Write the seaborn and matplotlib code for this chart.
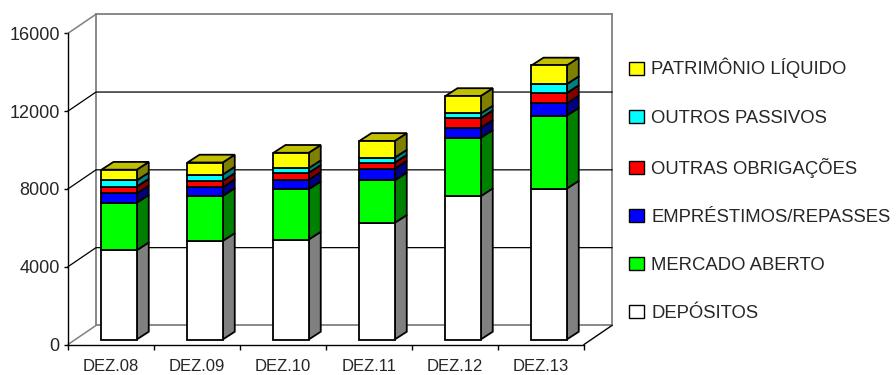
import matplotlib
matplotlib.use("Agg")
import matplotlib.pyplot as plt
from matplotlib.patches import Polygon, Patch
import numpy as np
import pandas as pd
import seaborn as sns

# Balance sheet composition (liabilities + equity), December of each year
categories = ["DEZ.08", "DEZ.09", "DEZ.10", "DEZ.11", "DEZ.12", "DEZ.13"]
depositos = [4590, 5070, 5140, 6000, 7370, 7760]
mercado_aberto = [2440, 2310, 2590, 2180, 3000, 3750]
emprestimos_repasses = [480, 450, 480, 600, 510, 630]
outras_obrigacoes = [350, 320, 360, 310, 500, 530]
outros_passivos = [320, 330, 240, 260, 240, 460]
patrimonio_liquido = [550, 620, 790, 860, 900, 960]

series_names = ["DEPÓSITOS", "MERCADO ABERTO", "EMPRÉSTIMOS/REPASSES",
                "OUTRAS OBRIGAÇÕES", "OUTROS PASSIVOS", "PATRIMÔNIO LÍQUIDO"]
y_ticks = [0, 4000, 8000, 12000, 16000]

df = pd.DataFrame(
    dict(zip(series_names, [depositos, mercado_aberto, emprestimos_repasses,
                            outras_obrigacoes, outros_passivos, patrimonio_liquido])),
    index=categories,
)

front_colors = ["#FFFFFF", "#00FF00", "#0000FF", "#FF0000", "#00FFFF", "#FFFF00"]
side_colors = ["#808080", "#008000", "#000080", "#800000", "#008080", "#808000"]
top_color = "#C0C000"

sns.set_theme(style="white")
plt.rcParams["font.family"] = ["Liberation Sans", "DejaVu Sans"]

W, H = 896, 375
fig = plt.figure(figsize=(W / 100, H / 100), dpi=100)
fig.patch.set_facecolor("white")

# front plane of the pseudo-3D box
ax = fig.add_axes([68 / W, 30.5 / H, 516 / W, 311.2 / H])
ax.set_xlim(0, len(categories))
ax.set_ylim(0, 16000)
ax.set_facecolor("none")

# oblique depth of the chart box (category units, value units)
wall_dx, wall_dy = 28 / 86, 980
# bars sit partway into the box and have their own depth
front_dx, front_dy = 0.094, 257
bar_dx, bar_dy = 0.14, 400
bar_w = 0.41

grey = "#808080"
kw = dict(clip_on=False, solid_capstyle="projecting")
xb0, xb1 = wall_dx, len(categories) + wall_dx
# back wall frame
ax.plot([xb0, xb0], [wall_dy, 16000 + wall_dy], color=grey, lw=1.3, zorder=1, **kw)
ax.plot([xb1, xb1], [wall_dy, 16000 + wall_dy], color=grey, lw=1.3, zorder=1, **kw)
ax.plot([xb0, xb1], [16000 + wall_dy] * 2, color=grey, lw=1.3, zorder=1, **kw)
ax.plot([xb0, xb1], [wall_dy] * 2, color=grey, lw=1.3, zorder=1, **kw)
ax.plot([0, xb0], [16000, 16000 + wall_dy], color=grey, lw=1.1, zorder=1, **kw)
ax.plot([0, xb0], [0, wall_dy], color=grey, lw=1.1, zorder=1, **kw)
ax.plot([len(categories), xb1], [0, wall_dy], color="black", lw=1.0, zorder=1, **kw)
# gridlines across side wall and back wall
for v in y_ticks[1:-1]:
    ax.plot([0, xb0, xb1], [v, v + wall_dy, v + wall_dy], color="black", lw=0.9, zorder=1, **kw)

# stacked bars with side and top faces
x_left = np.arange(len(categories)) + 0.5 - bar_w / 2 + front_dx
bottom = np.zeros(len(categories))
for k, name in enumerate(series_names):
    vals = df[name].to_numpy(dtype=float)
    ax.bar(x_left, vals, width=bar_w, bottom=bottom + front_dy, align="edge",
           color=front_colors[k], edgecolor="black", linewidth=1.3, zorder=3, clip_on=False)
    for i in range(len(categories)):
        xr = x_left[i] + bar_w
        b = bottom[i] + front_dy
        t = b + vals[i]
        ax.add_patch(Polygon([(xr, b), (xr + bar_dx, b + bar_dy), (xr + bar_dx, t + bar_dy), (xr, t)],
                             closed=True, facecolor=side_colors[k], edgecolor="black",
                             linewidth=1.3, zorder=2, clip_on=False))
    bottom = bottom + vals

for i in range(len(categories)):
    xl = x_left[i]
    t = bottom[i] + front_dy
    ax.add_patch(Polygon([(xl, t), (xl + bar_w, t), (xl + bar_w + bar_dx, t + bar_dy), (xl + bar_dx, t + bar_dy)],
                         closed=True, facecolor=top_color, edgecolor="black",
                         linewidth=1.3, zorder=2, clip_on=False))

# axes
for s in ["top", "right"]:
    ax.spines[s].set_visible(False)
for s in ["left", "bottom"]:
    ax.spines[s].set_color("black")
    ax.spines[s].set_linewidth(1.0)
ax.set_yticks(y_ticks)
ax.set_yticklabels([str(v) for v in y_ticks], fontsize=13)
ax.tick_params(axis="y", which="major", direction="out", length=3, width=1, color="black", pad=3, left=True)
ax.set_xticks(np.arange(len(categories) + 1))
ax.set_xticklabels([])
ax.set_xticks(np.arange(len(categories)) + 0.5, minor=True)
ax.set_xticklabels(categories, minor=True, fontsize=12)
ax.tick_params(axis="x", which="major", direction="out", length=3.5, width=1, color="black", bottom=True)
ax.tick_params(axis="x", which="minor", length=0, pad=10.5, bottom=True)
ax.grid(False)

# legend, top entry = top of stack
handles = [Patch(facecolor=front_colors[k], edgecolor="black", linewidth=1.0) for k in range(len(series_names))][::-1]
fig.legend(handles, series_names[::-1], loc="upper left", bbox_to_anchor=(629 / W, 1 - 58 / H),
           frameon=False, fontsize=13.3, handlelength=0.8, handleheight=0.7, handletextpad=0.4,
           labelspacing=1.68, borderpad=0, borderaxespad=0)

fig.savefig("out.png", dpi=100, facecolor="white")
